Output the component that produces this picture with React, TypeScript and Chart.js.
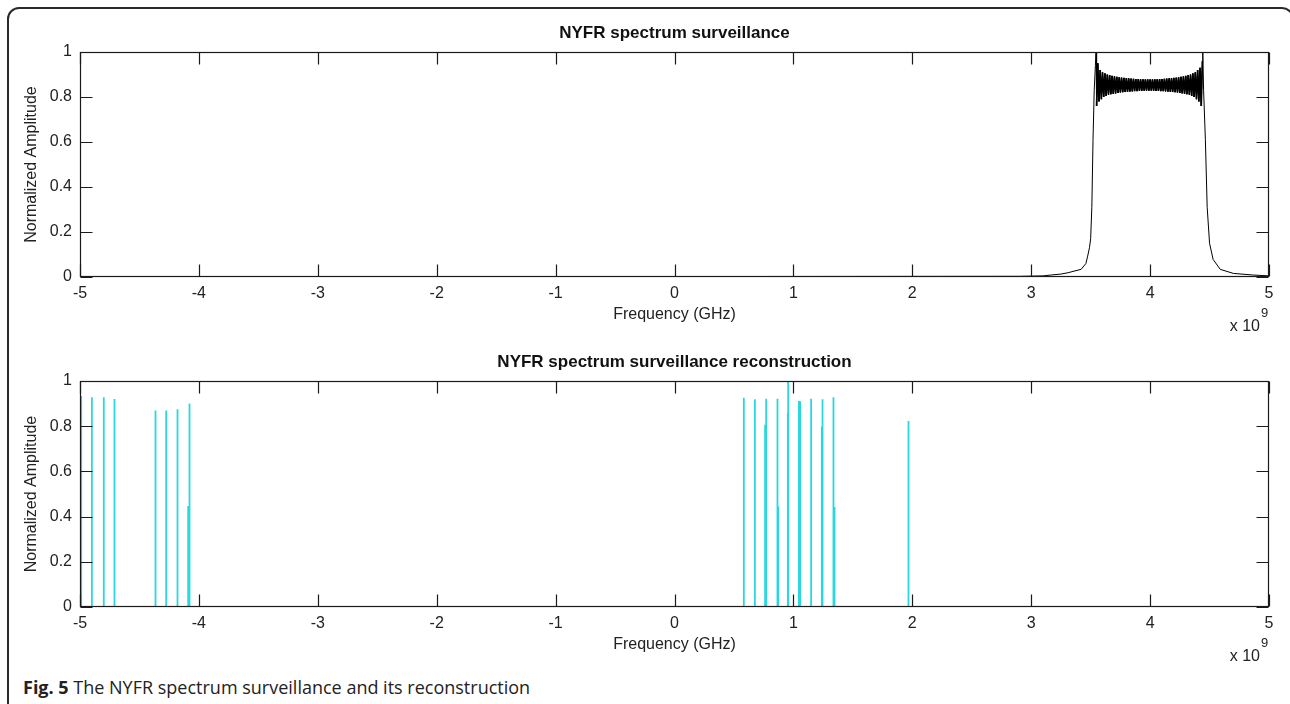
import React, { useEffect, useRef } from 'react';
import { Chart, registerables } from 'chart.js';
Chart.register(...registerables);

// ---- tick labels ----
const xTickLabels = ['-5', '-4', '-3', '-2', '-1', '0', '1', '2', '3', '4', '5'];
const yTickLabels = ['0', '0.2', '0.4', '0.6', '0.8', '1'];

// ---- top chart: NYFR spectrum surveillance ----
const riseFreq = [-5, 0, 2.9, 3.0, 3.1, 3.17, 3.25, 3.31, 3.36, 3.42, 3.46, 3.475, 3.49, 3.5, 3.51, 3.52, 3.53, 3.54, 3.545];
const riseAmp = [0.002, 0.002, 0.003, 0.004, 0.005, 0.009, 0.013, 0.019, 0.026, 0.034, 0.06, 0.093, 0.13, 0.17, 0.31, 0.61, 0.83, 0.94, 1.0];

const bandFreq = [
  3.55, 3.56, 3.57, 3.58, 3.59, 3.60, 3.61, 3.62, 3.63, 3.64, 3.65, 3.66, 3.67, 3.68, 3.69,
  3.70, 3.71, 3.72, 3.73, 3.74, 3.75, 3.76, 3.77, 3.78, 3.79, 3.80, 3.81, 3.82, 3.83, 3.84,
  3.85, 3.86, 3.87, 3.88, 3.89, 3.90, 3.91, 3.92, 3.93, 3.94, 3.95, 3.96, 3.97, 3.98, 3.99,
  4.00, 4.01, 4.02, 4.03, 4.04, 4.05, 4.06, 4.07, 4.08, 4.09, 4.10, 4.11, 4.12, 4.13, 4.14,
  4.15, 4.16, 4.17, 4.18, 4.19, 4.20, 4.21, 4.22, 4.23, 4.24, 4.25, 4.26, 4.27, 4.28, 4.29,
  4.30, 4.31, 4.32, 4.33, 4.34, 4.35, 4.36, 4.37, 4.38, 4.39, 4.40, 4.41, 4.42, 4.43, 4.44,
];
const bandAmp = [
  0.76, 0.95, 0.78, 0.92, 0.79, 0.91, 0.80, 0.905, 0.805, 0.90, 0.81, 0.897, 0.812, 0.894, 0.814,
  0.892, 0.816, 0.89, 0.818, 0.888, 0.82, 0.886, 0.821, 0.885, 0.822, 0.884, 0.823, 0.883, 0.824, 0.882,
  0.825, 0.881, 0.826, 0.88, 0.826, 0.88, 0.827, 0.879, 0.827, 0.879, 0.828, 0.878, 0.828, 0.878, 0.828,
  0.878, 0.828, 0.878, 0.828, 0.879, 0.827, 0.879, 0.827, 0.88, 0.826, 0.88, 0.826, 0.881, 0.825, 0.882,
  0.824, 0.883, 0.823, 0.884, 0.822, 0.885, 0.821, 0.886, 0.82, 0.888, 0.818, 0.89, 0.816, 0.892, 0.814,
  0.894, 0.812, 0.897, 0.81, 0.90, 0.805, 0.905, 0.80, 0.91, 0.79, 0.92, 0.78, 0.93, 0.76, 0.96,
];

const fallFreq = [4.443, 4.45, 4.465, 4.48, 4.5, 4.53, 4.59, 4.7, 4.86, 5.0];
const fallAmp = [1.0, 0.83, 0.61, 0.31, 0.15, 0.078, 0.034, 0.016, 0.009, 0.005];

// ---- bottom chart: reconstruction spikes ----
const spikeFreq = [-5.0, -4.99, -4.90, -4.80, -4.71, -4.365, -4.275, -4.18, -4.09, -4.079,
  0.583, 0.676, 0.762, 0.771, 0.866, 0.872, 0.953, 0.956, 1.046, 1.057, 1.149, 1.239, 1.245, 1.337, 1.346, 1.968];
const spikeAmp = [0.47, 0.934, 0.928, 0.928, 0.92, 0.869, 0.869, 0.875, 0.447, 0.90,
  0.926, 0.919, 0.806, 0.922, 0.922, 0.445, 0.857, 1.0, 0.912, 0.91, 0.922, 0.798, 0.919, 0.928, 0.442, 0.823];

const FONT = "'Liberation Sans', Arial, Helvetica, sans-serif";
const TEXT = '#222';

function zip(xs: number[], ys: number[]) {
  return xs.map((x, i) => ({ x, y: ys[i] }));
}

function spikeSeries() {
  const pts: { x: number; y: number }[] = [{ x: -5, y: 0 }];
  spikeFreq.forEach((f, i) => {
    pts.push({ x: f, y: 0 }, { x: f, y: spikeAmp[i] }, { x: f, y: 0 });
  });
  pts.push({ x: 5, y: 0 });
  return pts;
}

function framePlugin(title: string) {
  return {
    id: 'matlabFrame',
    afterDatasetsDraw(chart: any) {
      const { ctx, chartArea } = chart;
      const { left, right, top, bottom } = chartArea;
      const xs = chart.scales.x;
      const ys = chart.scales.y;
      const L = Math.round(left) + 0.5;
      const R = Math.round(right) - 0.5;
      const T = Math.round(top) + 0.5;
      const B = Math.round(bottom) - 0.5;
      ctx.save();
      ctx.strokeStyle = '#1a1a1a';
      ctx.lineWidth = 1.2;
      ctx.strokeRect(L, T, R - L, B - T);
      const tl = 12;
      ctx.beginPath();
      xs.ticks.forEach((t: any) => {
        const px = Math.round(xs.getPixelForValue(t.value)) + 0.5;
        ctx.moveTo(px, B); ctx.lineTo(px, B - tl);
        ctx.moveTo(px, T); ctx.lineTo(px, T + tl);
      });
      ys.ticks.forEach((t: any) => {
        const py = Math.round(ys.getPixelForValue(t.value)) + 0.5;
        ctx.moveTo(L, py); ctx.lineTo(L + tl, py);
        ctx.moveTo(R, py); ctx.lineTo(R - tl, py);
      });
      ctx.stroke();

      const cx = (left + right) / 2;
      ctx.fillStyle = '#111';
      ctx.textAlign = 'center';
      ctx.textBaseline = 'middle';
      ctx.font = `bold 17px ${FONT}`;
      ctx.fillText(title, cx, top - 19);

      ctx.fillStyle = TEXT;
      ctx.font = `16px ${FONT}`;
      ctx.fillText('Frequency (GHz)', cx, bottom + 38);

      ctx.save();
      ctx.translate(32, (top + bottom) / 2);
      ctx.rotate(-Math.PI / 2);
      ctx.fillText('Normalized Amplitude', 0, 0);
      ctx.restore();

      ctx.textAlign = 'right';
      ctx.font = `16px ${FONT}`;
      ctx.fillText('x 10', right - 9, bottom + 50);
      ctx.textAlign = 'left';
      ctx.font = `13px ${FONT}`;
      ctx.fillText('9', right - 8, bottom + 36);
      ctx.restore();
    },
  };
}

function makeOptions(padTop: number) {
  return {
    responsive: false,
    animation: false as const,
    devicePixelRatio: 1,
    events: [] as any[],
    layout: { padding: { top: padTop, right: 21, left: 0, bottom: 0 } },
    plugins: { legend: { display: false }, tooltip: { enabled: false }, title: { display: false } },
    elements: { point: { radius: 0 }, line: { tension: 0 } },
    scales: {
      x: {
        type: 'linear' as const,
        min: -5,
        max: 5,
        grid: { display: false, drawTicks: false },
        border: { display: false },
        afterFit: (s: any) => { s.height = 68; },
        ticks: {
          stepSize: 1,
          padding: 7,
          color: TEXT,
          font: { family: FONT, size: 16 },
          maxRotation: 0,
          autoSkip: false,
          callback: (_v: any, i: number) => xTickLabels[i],
        },
      },
      y: {
        type: 'linear' as const,
        min: 0,
        max: 1,
        grid: { display: false, drawTicks: false },
        border: { display: false },
        afterFit: (s: any) => { s.width = 80; },
        ticks: {
          stepSize: 0.2,
          padding: 8,
          color: TEXT,
          font: { family: FONT, size: 16 },
          callback: (_v: any, i: number) => yTickLabels[i],
        },
      },
    },
  };
}

function ChartCanvas({ kind, top }: { kind: 'top' | 'bottom'; top: number }) {
  const ref = useRef<HTMLCanvasElement | null>(null);
  useEffect(() => {
    if (!ref.current) return;
    const isTop = kind === 'top';
    const datasets: any[] = isTop
      ? [
          {
            data: [...zip(riseFreq, riseAmp), ...zip(bandFreq, bandAmp), ...zip(fallFreq, fallAmp)],
            borderColor: '#000000',
            borderWidth: 1,
            borderJoinStyle: 'bevel',
            pointRadius: 0,
            fill: false,
          },
          {
            data: zip(bandFreq, bandAmp),
            borderColor: '#000000',
            borderWidth: 1.7,
            borderJoinStyle: 'bevel',
            pointRadius: 0,
            fill: false,
          },
        ]
      : [
          {
            data: spikeSeries(),
            borderColor: 'rgb(40,216,222)',
            borderWidth: 1.8,
            borderJoinStyle: 'bevel',
            pointRadius: 0,
            fill: false,
          },
        ];
    const chart = new Chart(ref.current, {
      type: 'line',
      data: { datasets },
      options: makeOptions(isTop ? 52 : 51) as any,
      plugins: [framePlugin(isTop ? 'NYFR spectrum surveillance' : 'NYFR spectrum surveillance reconstruction')],
    });
    return () => chart.destroy();
  }, [kind]);
  return (
    <canvas
      ref={ref}
      width={1290}
      height={345}
      style={{ position: 'absolute', left: 0, top, width: 1290, height: 345 }}
    />
  );
}

export default function App() {
  useEffect(() => {
    document.body.style.margin = '0';
    document.body.style.overflow = 'hidden';
  }, []);
  return (
    <div style={{ position: 'relative', width: 1290, height: 704, overflow: 'hidden', background: '#fff' }}>
      <div
        style={{
          position: 'absolute',
          left: 7,
          top: 7,
          width: 1287,
          height: 760,
          border: '2px solid #2a2a2a',
          borderRadius: 12,
          boxSizing: 'border-box',
        }}
      />
      <ChartCanvas kind="top" top={0} />
      <ChartCanvas kind="bottom" top={330} />
      <div
        style={{
          position: 'absolute',
          left: 23,
          top: 676,
          fontFamily: "'Open Sans', 'Noto Sans', sans-serif",
          fontSize: 18,
          lineHeight: '22px',
          color: '#222',
          whiteSpace: 'nowrap',
        }}
      >
        <b>Fig. 5</b> The NYFR spectrum surveillance and its reconstruction
      </div>
    </div>
  );
}
